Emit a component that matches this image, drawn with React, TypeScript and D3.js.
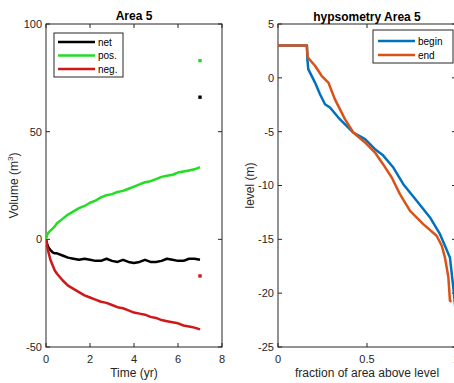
import * as d3 from 'd3';

// ---- left panel: volume change over time (Area 5) ----
const timeYr = [0, 0.05, 0.1, 0.2, 0.3, 0.4, 0.5, 0.75, 1, 1.25, 1.5, 1.75, 2, 2.25, 2.5, 2.75, 3,
  3.25, 3.5, 3.75, 4, 4.25, 4.5, 4.75, 5, 5.25, 5.5, 5.75, 6, 6.25, 6.5, 6.75, 7];
const netVol = [0, -2, -3.5, -5, -6, -6.5, -6.5, -7.5, -8.5, -9, -9.5, -9, -9.5, -10, -10, -9, -10,
  -10.5, -9.5, -10.5, -11, -10.5, -9.5, -10.5, -10.5, -10, -9, -9.5, -10, -10, -9, -9, -9.5];
const posVol = [0, 2, 3, 4, 5, 6, 7.5, 9.5, 11.5, 13, 14.5, 15.5, 17, 18, 19.5, 20.5, 21,
  22, 22.5, 23.5, 24.5, 25.5, 26.5, 27, 28, 29, 29.5, 30, 31, 31.5, 32, 32.5, 33.5];
const negVol = [0, -3, -5.5, -9.5, -12, -14.5, -16, -19, -21.5, -23, -24.5, -26, -27, -28, -29, -29.5, -30.5,
  -31.5, -32, -33, -34, -34.5, -35, -36, -36.5, -37.5, -38, -38.5, -39, -40, -40.5, -41, -41.8];
// single end-of-period points
const endTime = 7;
const endNet = 66;
const endPos = 83;
const endNeg = -17;

const volSeries = [
  { name: 'net', color: '#000000', values: netVol, end: endNet },
  { name: 'pos.', color: '#22dd22', values: posVol, end: endPos },
  { name: 'neg.', color: '#d01818', values: negVol, end: endNeg },
];
const timeTicks = [0, 2, 4, 6, 8];
const volTicks = [-50, 0, 50, 100];

// ---- right panel: hypsometry ----
const beginFrac = [0, 0.163, 0.165, 0.17, 0.208, 0.236, 0.264, 0.292, 0.339, 0.395, 0.423, 0.489,
  0.545, 0.59, 0.648, 0.704, 0.779, 0.854, 0.91, 0.938, 0.966, 0.985, 1.0];
const beginLevel = [3, 3, 1.74, 0.81, -0.44, -1.52, -2.45, -2.76, -3.69, -4.62, -5.08, -5.7,
  -6.63, -7.2, -8.33, -9.88, -11.42, -12.97, -14.52, -15.6, -16.7, -19.5, -22];
const endFrac = [0, 0.161, 0.167, 0.208, 0.245, 0.283, 0.32, 0.376, 0.423, 0.489, 0.545, 0.59, 0.639,
  0.685, 0.742, 0.816, 0.891, 0.92, 0.938, 0.957, 0.966, 0.975];
const endLevel = [3, 3, 1.9, 1.12, 0.19, -0.44, -2.0, -3.84, -5.08, -6.0, -6.94, -8.02, -9.26,
  -10.8, -12.35, -13.59, -14.67, -15.6, -16.7, -18.5, -20.7, -20.8];

const hypsoSeries = [
  { name: 'begin', color: '#0072BD', frac: beginFrac, level: beginLevel },
  { name: 'end', color: '#D95319', frac: endFrac, level: endLevel },
];
const fracTicks = [0, 0.5, 1];
const levelTicks = [5, 0, -5, -10, -15, -20, -25];

const W = 454;
const H = 383;
const axisColor = '#262626';
const font = 'Liberation Sans, Arial, Helvetica, sans-serif';
const tickLen = 4;

function Box({ x0, x1, y0, y1, xt, yt, xs, ys, fmt }: any) {
  return (
    <g>
      <rect x={x0} y={y0} width={x1 - x0} height={y1 - y0} fill="none" stroke={axisColor} strokeWidth={1} />
      {xt.map((t: number) => (
        <g key={'x' + t}>
          <line x1={xs(t)} x2={xs(t)} y1={y1} y2={y1 - tickLen} stroke={axisColor} />
          <line x1={xs(t)} x2={xs(t)} y1={y0} y2={y0 + tickLen} stroke={axisColor} />
          <text x={xs(t)} y={362.5} textAnchor="middle" fontSize={11} fill={axisColor}>{fmt(t)}</text>
        </g>
      ))}
      {yt.map((t: number) => (
        <g key={'y' + t}>
          <line x1={x0} x2={x0 + tickLen} y1={ys(t)} y2={ys(t)} stroke={axisColor} />
          <line x1={x1} x2={x1 - tickLen} y1={ys(t)} y2={ys(t)} stroke={axisColor} />
          <text x={x0 - 4} y={ys(t)} dy="0.35em" textAnchor="end" fontSize={11} fill={axisColor}>{t}</text>
        </g>
      ))}
    </g>
  );
}

export default function App() {
  // left axes
  const xL = d3.scaleLinear().domain([0, 8]).range([46, 222]);
  const yL = d3.scaleLinear().domain([-50, 100]).range([347, 24]);
  // right axes (extends past the window edge)
  const xR = d3.scaleLinear().domain([0, 1]).range([278, 456]);
  const yR = d3.scaleLinear().domain([-25, 5]).range([347, 24]);

  const volLine = d3.line<number>().x((_, i) => xL(timeYr[i])).y((d) => yL(d));

  return (
    <div style={{ position: 'absolute', left: 0, top: 0 }}>
      <svg width={W} height={H} style={{ display: 'block', background: '#fff', fontFamily: font }}>
        <defs>
          <clipPath id="clipL"><rect x={46} y={24} width={176} height={323} /></clipPath>
          <clipPath id="clipR"><rect x={278} y={24} width={178} height={323} /></clipPath>
        </defs>

        {/* ---- left panel ---- */}
        <Box x0={46} x1={222} y0={24} y1={347} xt={timeTicks} yt={volTicks} xs={xL} ys={yL} fmt={(t: number) => String(t)} />
        <g clipPath="url(#clipL)">
          {volSeries.map((s) => (
            <path key={s.name} d={volLine(s.values) || ''} fill="none" stroke={s.color} strokeWidth={2.5} strokeLinejoin="round" />
          ))}
          {volSeries.map((s) => (
            <rect key={s.name + 'e'} x={xL(endTime) - 1.7} y={yL(s.end) - 1.7} width={3.4} height={3.4} fill={s.color} />
          ))}
        </g>
        <text x={134} y={20} textAnchor="middle" fontSize={12} fontWeight="bold" fill="#000">Area 5</text>
        <text x={134} y={377} textAnchor="middle" fontSize={12} fill={axisColor}>Time (yr)</text>
        <text transform="translate(17.5,185.5) rotate(-90)" textAnchor="middle" fontSize={12} fill={axisColor}>
          Volume (m<tspan dy="-5" fontSize={8}>3</tspan><tspan dy="5">)</tspan>
        </text>
        <g>
          <rect x={54} y={33} width={69} height={44} fill="#fff" stroke={axisColor} strokeWidth={1} />
          {volSeries.map((s, i) => (
            <g key={s.name + 'lg'}>
              <line x1={58} x2={95} y1={42 + i * 13.5} y2={42 + i * 13.5} stroke={s.color} strokeWidth={2.5} />
              <text x={98} y={42 + i * 13.5} dy="0.35em" fontSize={10} fill="#000">{s.name}</text>
            </g>
          ))}
        </g>

        {/* ---- right panel ---- */}
        <Box x0={278} x1={456} y0={24} y1={347} xt={fracTicks} yt={levelTicks} xs={xR} ys={yR} fmt={(t: number) => String(t)} />
        <g clipPath="url(#clipR)">
          {hypsoSeries.map((s) => {
            const line = d3.line<number>().x((d) => xR(d)).y((_, i) => yR(s.level[i]));
            return <path key={s.name} d={line(s.frac) || ''} fill="none" stroke={s.color} strokeWidth={2.5} strokeLinejoin="round" />;
          })}
        </g>
        <text x={367} y={20.5} textAnchor="middle" fontSize={12} fontWeight="bold" fill="#000">hypsometry Area 5</text>
        <text x={367} y={377} textAnchor="middle" fontSize={12} fill={axisColor}>fraction of area above level</text>
        <text transform="translate(253.5,185.5) rotate(-90)" textAnchor="middle" fontSize={12} fill={axisColor}>level (m)</text>
        <g>
          <rect x={373} y={30} width={80} height={33} fill="#fff" stroke={axisColor} strokeWidth={1} />
          {hypsoSeries.map((s, i) => (
            <g key={s.name + 'lg'}>
              <line x1={378} x2={415} y1={41 + i * 14} y2={41 + i * 14} stroke={s.color} strokeWidth={2.5} />
              <text x={418} y={41 + i * 14} dy="0.35em" fontSize={10} fill="#000">{s.name}</text>
            </g>
          ))}
        </g>
      </svg>
    </div>
  );
}
